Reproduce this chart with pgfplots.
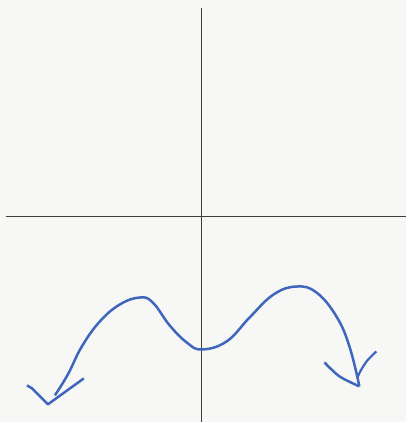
\documentclass[border=0pt]{standalone}
\usepackage{pgfplots}
\pgfplotsset{compat=1.18}
\definecolor{paper}{RGB}{247,247,245}
\definecolor{pen}{RGB}{62,102,188}
\definecolor{pencil}{RGB}{60,60,60}
\begin{document}
\begin{tikzpicture}
\begin{axis}[
    width=407pt, height=423pt,
    scale only axis,
    xmin=0, xmax=407, ymin=0, ymax=423,
    y dir=reverse,
    axis line style={draw=none},
    axis background/.style={fill=paper},
    xtick=\empty, ytick=\empty,
    clip=false,
]
    % axes
    \addplot[pencil, line width=1.4pt] coordinates {(202,8) (202,423)};
    \addplot[pencil, line width=1.4pt] coordinates {(6,217) (407,217)};
    % curve
    \addplot[pen, line width=2.5pt, smooth, tension=0.7] coordinates {
        (55,396) (68,375) (82,347) (100,322) (120,305)
        (140,298) (153,303) (170,326) (187,343)
        (202,350) (227,342) (250,318) (274,295)
        (297,287) (317,293) (337,317)
        (350,347) (360,387)
    };
    % arrow heads
    \addplot[pen, line width=2.5pt, line join=round] coordinates {(27,386) (32,389) (48,405) (84,379)};
    \addplot[pen, line width=2.5pt, smooth, tension=0.5] coordinates {(325,363) (340,377) (360,387)};
    \addplot[pen, line width=2.2pt, smooth, tension=0.5] coordinates {(358,378) (362,370) (368,361) (377,352)};
\end{axis}
\end{tikzpicture}
\end{document}
